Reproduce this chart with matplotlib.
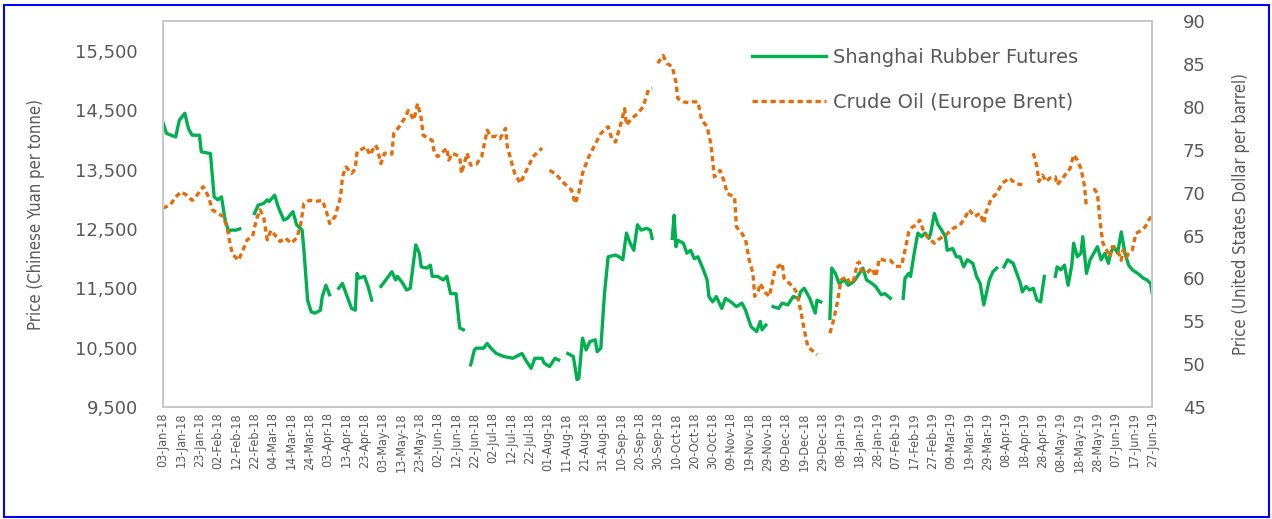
"""Shanghai rubber futures vs Brent crude, Jan 2018 - Jun 2019"""
import matplotlib
matplotlib.use('Agg')
import matplotlib.pyplot as plt
from matplotlib.patches import Rectangle
import numpy as np
import pandas as pd

nan = np.nan

# days counted from 03-Jan-2018; nan marks a break in the series
rubber_days = [0, 2, 7, 9, 12, 14, 16, 20, 21, 26, 28, 30, 32, 34, 36, 37, 40, 42, 46,
               50, 52, 55, 57, 58, 61, 63, 66, 68, 71, 73, 76, 77, 79, 81, 83, 86, 87, 89, 91, 93,
               96, 98, 100, 103, 105, 106, 107, 110, 112, 114, 116,
               119, 121, 125, 127, 128, 131, 133, 135, 138, 140, 141, 144, 146, 147, 150, 153, 155,
               157, 160, 162, 164, 166,
               168, 170, 171, 175, 177, 179, 182, 186, 191, 196, 198, 201, 203, 207, 208, 211, 214,
               216, 218,
               221, 224, 226, 227, 229, 231, 233, 236, 237, 239, 241, 243, 247, 249, 251, 253, 255,
               257, 259, 261, 264, 266, 267, 272,
               278, 279, 280, 281, 284, 286, 288, 290, 292, 295, 297, 298, 300, 302, 305, 307, 310,
               313, 316, 318, 321, 324, 326, 327, 329, 331,
               333, 336, 338, 341, 344, 347, 348, 350, 353, 356, 357, 359, 362,
               364, 365, 367, 369, 372, 374, 377, 380, 382, 384, 387, 389, 392, 394, 397, 400,
               404, 405, 407, 408, 410, 412, 414, 416, 418, 419, 421, 423, 425, 427, 428, 431, 433,
               435, 437, 439, 442, 444, 446, 448, 449, 451, 453, 455, 457,
               459, 461, 464, 466, 468, 469, 471, 473, 475, 477, 479, 481, 484,
               487, 488, 490, 492, 494, 496, 497, 499, 501, 502, 504, 506, 508, 510, 512, 514, 516,
               517, 519, 521, 523, 525, 527, 529, 532, 535, 537, 539, 540]
rubber_price = [14300, 14110, 14050, 14330, 14450, 14190, 14080, 14080, 13800, 13770, 13040, 12990,
                13040, 12650, 12450, 12480, 12480, 12500, nan,
                12760, 12900, 12930, 12990, 12960, 13070, 12870, 12650, 12680, 12790, 12570, 12480,
                12140, 11300, 11100, 11080, 11130, 11360, 11550, 11390, nan,
                11500, 11580, 11410, 11160, 11130, 11750, 11670, 11700, 11530, 11300, nan,
                11530, 11610, 11780, 11640, 11700, 11580, 11470, 11500, 12230, 12090, 11860, 11840,
                11890, 11700, 11700, 11640, 11700, 11410, 11410, 10830, 10800, nan,
                10210, 10460, 10490, 10490, 10570, 10490, 10400, 10350, 10320, 10400, 10290, 10150,
                10320, 10320, 10240, 10180, 10320, 10290, nan,
                10400, 10350, 9960, 9980, 10660, 10460, 10600, 10630, 10430, 10490, 11410, 12030,
                12060, 12030, 11980, 12430, 12260, 12140, 12570, 12480, 12510, 12480, 12340, nan,
                12340, 12730, 12200, 12310, 12260, 12090, 12140, 12000, 12030, 11810, 11640, 11360,
                11270, 11360, 11160, 11330, 11270, 11190, 11250, 11130, 10850, 10770, 10940, 10800,
                10880, nan,
                11190, 11160, 11250, 11220, 11360, 11330, 11440, 11500, 11330, 11080, 11300, 11270, nan,
                10990, 11840, 11750, 11580, 11640, 11550, 11610, 11750, 11840, 11640, 11580, 11530,
                11390, 11410, 11330, nan,
                11330, 11670, 11750, 11700, 12090, 12430, 12370, 12430, 12340, 12430, 12760, 12570,
                12480, 12370, 12140, 12170, 12030, 12030, 11860, 11980, 11920, 11700, 11580, 11220,
                11360, 11640, 11780, 11840, nan,
                11860, 11980, 11920, 11750, 11580, 11440, 11530, 11470, 11500, 11300, 11270, 11700, nan,
                11700, 11860, 11810, 11890, 11550, 11890, 12260, 12030, 12090, 12370, 11750, 11980,
                12090, 12200, 11980, 12090, 11920, 12090, 12200, 12090, 12450, 12090, 11890, 11810,
                11750, 11670, 11640, 11580, 11390]

oil_days = [0, 4, 7, 10, 13, 16, 18, 22, 25, 27, 30, 33, 35, 37, 38, 41, 43, 46, 49, 51, 53, 55,
            57, 59, 61, 64, 67, 70, 73, 75, 77, 80, 84, 87, 89, 91, 94, 97, 98, 100, 103, 105, 106,
            108, 111, 113, 116, 117, 119, 121, 125, 126, 129, 132, 134, 137, 139, 141, 142, 147,
            148, 150, 155, 156, 158, 162, 163, 166, 168, 171, 174, 177, 179, 182, 184, 187, 188,
            190, 192, 195, 198, 202, 207, 209,
            211, 214, 216, 219, 223, 225, 227, 229, 232, 237, 239, 243, 245, 247, 250, 252, 253,
            256, 259, 262, 265, 267, 268,
            270, 273, 275, 278, 280, 281, 284, 287, 289, 292, 294, 297, 299, 301, 304, 306, 308,
            312, 313, 316, 318, 320, 322, 323, 325, 326, 327, 329, 331, 334, 336, 338, 339, 342,
            344, 346, 348, 350, 352, 357, 360,
            364, 366, 368, 370, 373, 375, 377, 379, 380, 381, 384, 387, 389, 391, 394, 397, 400,
            403, 405, 407, 409, 411, 413, 415, 417, 419, 421, 423, 426, 428, 431, 435, 438, 440,
            443, 446, 448, 449, 452, 455, 458, 462, 465, 469, 472,
            475, 477, 478, 480, 482, 484, 487, 488, 491, 495, 497, 499, 501, 503, 504, 506,
            508, 510, 511, 512, 513, 515, 517, 518, 521, 523, 524, 526, 527, 529, 531, 534, 536,
            538, 540]
oil_price = [68.2, 68.55, 69.5, 70.1, 69.7, 69.1, 69.5, 70.7, 69.5, 68.0, 67.6, 67.2, 66.0, 63.7,
             62.9, 62.1, 62.9, 64.5, 64.9, 66.8, 68.0, 67.2, 64.5, 65.6, 65.1, 64.3, 64.7, 64.1,
             64.7, 66.0, 68.75, 69.1, 69.0, 69.1, 68.0, 66.4, 67.2, 69.5, 71.85, 73.0, 72.25, 72.8,
             74.8, 75.0, 75.35, 74.4, 75.55, 75.2, 73.4, 74.6, 74.5, 76.9, 77.7, 78.7, 79.6, 78.5,
             80.4, 78.7, 76.7, 76.1, 74.8, 74.2, 75.2, 73.8, 74.6, 74.2, 72.25, 74.6, 73.2, 73.3,
             74.2, 77.3, 76.5, 76.6, 76.3, 77.5, 75.35, 73.8, 72.25, 71.1, 72.4, 74.2, 75.2, nan,
             72.6, 72.25, 71.8, 71.1, 70.3, 68.75, 70.0, 72.25, 74.0, 76.1, 76.9, 77.7, 76.3, 75.9,
             78.1, 79.8, 77.9, 78.7, 79.2, 80.0, 82.0, 82.2, nan,
             85.1, 86.0, 85.1, 84.7, 82.9, 81.0, 80.6, 80.5, 80.6, 80.6, 78.5, 77.7, 75.75, 71.85,
             72.6, 71.5, 69.9, 69.5, 66.0, 65.25, 64.5, 62.1, 60.6, 57.9, 58.6, 59.4, 59.0, 58.3,
             57.9, 61.0, 61.4, 61.75, 60.0, 59.4, 59.0, 58.3, 56.3, 54.0, 52.0, 51.1, nan,
             53.6, 55.1, 57.1, 59.8, 60.2, 59.4, 59.8, 61.75, 61.9, 61.0, 60.6, 61.2, 60.2, 62.3,
             62.1, 62.1, 61.4, 61.4, 63.3, 65.4, 66.0, 66.2, 66.8, 65.6, 64.9, 64.5, 64.1, 64.5,
             64.9, 65.2, 65.8, 66.2, 67.2, 68.0, 67.2, 67.6, 66.4, 67.6, 69.3, 69.9, 71.1, 71.7,
             71.1, 70.9, nan,
             74.6, 73.0, 71.3, 72.05, 71.3, 71.7, 71.85, 70.9, 71.7, 72.8, 74.4, 73.8, 72.8, 70.7,
             68.2, nan,
             70.5, 69.9, 67.6, 65.6, 64.1, 63.3, 62.5, 63.7, 63.3, 62.1, 63.3, 62.5, 62.9, 63.3,
             65.25, 65.6, 66.0, 66.8, 67.4]

left_ticks = [9500, 10500, 11500, 12500, 13500, 14500, 15500]
right_ticks = [45, 50, 55, 60, 65, 70, 75, 80, 85, 90]

start = pd.Timestamp('2018-01-03')
end = pd.Timestamp('2019-06-27')
rubber_dates = start + pd.to_timedelta(rubber_days, unit='D')
oil_dates = start + pd.to_timedelta(oil_days, unit='D')
tick_dates = pd.date_range(start, end, freq='10D')

grey = '#595959'

fig = plt.figure(figsize=(12.72, 5.19), dpi=100)
ax = fig.add_axes([0.128, 0.216, 0.778, 0.743])
ax2 = ax.twinx()

l1, = ax.plot(rubber_dates, rubber_price, color='#00B050', lw=2.4,
              label='Shanghai Rubber Futures')
l2, = ax2.plot(oil_dates, oil_price, color='#E46C0A', lw=2.4, ls=(0, (1.6, 1.1)),
               label='Crude Oil (Europe Brent)')

ax.set_xlim(start, end)
ax.set_ylim(9500, 16000)
ax2.set_ylim(45, 90)

ax.set_xticks(tick_dates)
ax.set_xticklabels([d.strftime('%d-%b-%y') for d in tick_dates], rotation=90,
                   fontsize=9, fontstretch='condensed', color=grey)
ax.set_yticks(left_ticks)
ax.set_yticklabels([f'{v:,}' for v in left_ticks], fontsize=13, color=grey)
ax2.set_yticks(right_ticks)
ax2.set_yticklabels([str(v) for v in right_ticks], fontsize=13, color=grey)
ax.tick_params(axis='x', length=0, pad=4)
ax.tick_params(axis='y', length=0, pad=18)
ax2.tick_params(axis='y', length=0, pad=22)
for a in (ax, ax2):
    for s in a.spines.values():
        s.set_color('#C8C8C8')
        s.set_linewidth(1.2)

ax.set_ylabel('Price (Chinese Yuan per tonne)', fontsize=12, fontstretch='condensed',
              color=grey)
ax.yaxis.set_label_coords(-0.119, 0.5)
ax2.set_ylabel('Price (United States Dollar per barrel)', fontsize=12,
               fontstretch='condensed', color=grey, rotation=90)
ax2.yaxis.set_label_coords(1.08, 0.5)

leg = ax2.legend(handles=[l1, l2], loc='upper left', bbox_to_anchor=(0.595, 0.93),
                 frameon=False, fontsize=14, handlelength=3.8, handletextpad=0.4,
                 labelspacing=1.3, borderpad=0, borderaxespad=0)
for t in leg.get_texts():
    t.set_color(grey)

# blue frame round the whole picture
fig.patches.append(Rectangle((0.003, 0.004), 0.995, 0.986, transform=fig.transFigure,
                             fill=False, edgecolor='#0000FF', lw=1.5))

fig.savefig('out.png', dpi=100)
plt.close()
